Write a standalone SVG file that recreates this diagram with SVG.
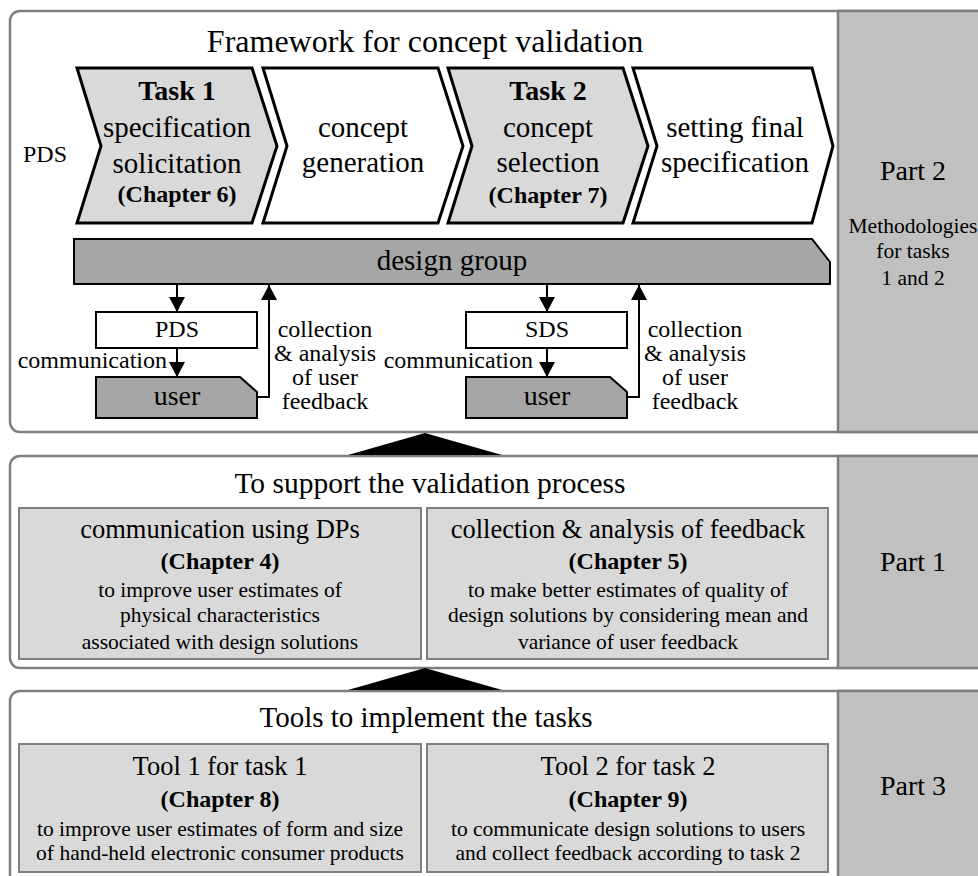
<svg xmlns="http://www.w3.org/2000/svg" width="978" height="876" viewBox="0 0 978 876" font-family="'Liberation Serif', 'DejaVu Serif', serif">
<style>
text{font-family:'Liberation Serif','DejaVu Serif',serif;fill:#000;text-anchor:middle}
.panel{fill:#fff;stroke:#7f7f7f;stroke-width:2.5}
.col{fill:#c0c0c0;stroke:#7f7f7f;stroke-width:2.5}
.box{fill:#d9d9d9;stroke:#808080;stroke-width:2}
.chevG{fill:#d9d9d9;stroke:#000;stroke-width:3;stroke-linejoin:miter}
.chevW{fill:#fff;stroke:#000;stroke-width:3;stroke-linejoin:miter}
.dark{fill:#a6a6a6;stroke:#000;stroke-width:2}
.white{fill:#fff;stroke:#000;stroke-width:2}
.ln{fill:none;stroke:#000;stroke-width:2}
.t29{font-size:29px}
.t295{font-size:29.5px}
.t32{font-size:32px}
.t28b{font-size:28px;font-weight:bold}
.t24b{font-size:24px;font-weight:bold}
.t24{font-size:24px}
.t26{font-size:26.5px}
.t21{font-size:21.5px}
.t28{font-size:28px}
</style>
<defs>
<marker id="ah" markerWidth="16" markerHeight="16" refX="15" refY="8" orient="auto" markerUnits="userSpaceOnUse">
<path d="M0,0 L15,8 L0,16 Z" fill="#000"/>
</marker>
</defs>

<g id="panel-top">
<rect class="panel" x="10" y="11" width="990" height="421" rx="10"/>
<rect class="col" x="838" y="11" width="160" height="421"/>
<text class="t32" x="425" y="52">Framework for concept validation</text>
</g>

<g id="panel-mid">
<rect class="panel" x="10" y="456" width="990" height="212" rx="10"/>
<rect class="col" x="838" y="456" width="160" height="212"/>
<text class="t295" x="430" y="493">To support the validation process</text>
</g>

<g id="panel-bot">
<rect class="panel" x="10" y="691" width="990" height="210" rx="10"/>
<rect class="col" x="838" y="691" width="160" height="210"/>
<text class="t29" x="426" y="727">Tools to implement the tasks</text>
</g>

<g id="part2">
<text class="t28" x="913" y="180">Part 2</text>
<text class="t21" x="913" y="233">Methodologies</text>
<text class="t21" x="913" y="258">for tasks</text>
<text class="t21" x="913" y="285">1 and 2</text>
</g>
<g id="part1"><text class="t28" x="913" y="571">Part 1</text></g>
<g id="part3"><text class="t28" x="913" y="795">Part 3</text></g>

<g id="pds-label"><text class="t24" x="23" y="162" style="text-anchor:start">PDS</text></g>

<g id="chev1">
<polygon class="chevG" points="77,68 252,68 277,146 252,223 77,223 101,146"/>
<text class="t28b" x="177" y="100">Task 1</text>
<text class="t29" x="177" y="137">specification</text>
<text class="t29" x="177" y="173">solicitation</text>
<text class="t24b" x="177" y="202">(Chapter 6)</text>
</g>
<g id="chev2">
<polygon class="chevW" points="263,68 438,68 463,146 438,223 263,223 287,146"/>
<text class="t29" x="363" y="137">concept</text>
<text class="t29" x="363" y="172">generation</text>
</g>
<g id="chev3">
<polygon class="chevG" points="448,68 623,68 648,146 623,223 448,223 472,146"/>
<text class="t28b" x="548" y="100">Task 2</text>
<text class="t29" x="548" y="137">concept</text>
<text class="t29" x="548" y="172">selection</text>
<text class="t24b" x="548" y="203">(Chapter 7)</text>
</g>
<g id="chev4">
<polygon class="chevW" points="633,68 812,68 833,146 812,223 633,223 657,146"/>
<text class="t29" x="735" y="137">setting final</text>
<text class="t29" x="735" y="172">specification</text>
</g>

<g id="design-group">
<polygon class="dark" points="74,239 812,239 830,262 830,284 74,284"/>
<text class="t29" x="452" y="270">design group</text>
</g>

<g id="pds-box">
<rect class="white" x="96" y="312" width="161" height="36"/>
<text class="t24" x="177" y="337">PDS</text>
</g>
<g id="user1">
<polygon class="dark" points="96,377 240,377 257,392 257,418 96,418"/>
<text class="t28" x="177" y="405">user</text>
</g>
<g id="sds-box">
<rect class="white" x="466" y="312" width="161" height="36"/>
<text class="t24" x="547" y="337">SDS</text>
</g>
<g id="user2">
<polygon class="dark" points="466,377 610,377 627,392 627,418 466,418"/>
<text class="t28" x="547" y="405">user</text>
</g>

<g id="connectors">
<line class="ln" x1="177" y1="285" x2="177" y2="312" marker-end="url(#ah)"/>
<line class="ln" x1="177" y1="348" x2="177" y2="377" marker-end="url(#ah)"/>
<polyline class="ln" points="257,397 269,397 269,285" marker-end="url(#ah)"/>
<line class="ln" x1="547" y1="285" x2="547" y2="312" marker-end="url(#ah)"/>
<line class="ln" x1="547" y1="348" x2="547" y2="377" marker-end="url(#ah)"/>
<polyline class="ln" points="627,397 639,397 639,285" marker-end="url(#ah)"/>
<polygon points="348,455 425,433 502,455" fill="#000"/>
<polygon points="348,690 425,668 502,690" fill="#000"/>
<text class="t24" x="167" y="368" style="text-anchor:end">communication</text>
<text class="t24" x="533" y="368" style="text-anchor:end">communication</text>
<text class="t24" x="325" y="337">collection</text>
<text class="t24" x="325" y="361">&amp; analysis</text>
<text class="t24" x="325" y="385">of user</text>
<text class="t24" x="325" y="409">feedback</text>
<text class="t24" x="695" y="337">collection</text>
<text class="t24" x="695" y="361">&amp; analysis</text>
<text class="t24" x="695" y="385">of user</text>
<text class="t24" x="695" y="409">feedback</text>
</g>

<g id="box-dps">
<rect class="box" x="19" y="508" width="402" height="151"/>
<text class="t26" x="220" y="538">communication using DPs</text>
<text class="t24b" x="220" y="569">(Chapter 4)</text>
<text class="t21" x="220" y="597">to improve user estimates of</text>
<text class="t21" x="220" y="622">physical characteristics</text>
<text class="t21" x="220" y="649">associated with design solutions</text>
</g>
<g id="box-feedback">
<rect class="box" x="427" y="508" width="401" height="151"/>
<text class="t26" x="628" y="538">collection &amp; analysis of feedback</text>
<text class="t24b" x="628" y="569">(Chapter 5)</text>
<text class="t21" x="628" y="597">to make better estimates of quality of</text>
<text class="t21" x="628" y="622">design solutions by considering mean and</text>
<text class="t21" x="628" y="649">variance of user feedback</text>
</g>
<g id="box-tool1">
<rect class="box" x="19" y="744" width="402" height="128"/>
<text class="t26" x="220" y="775">Tool 1 for task 1</text>
<text class="t24b" x="220" y="807">(Chapter 8)</text>
<text class="t21" x="220" y="836">to improve user estimates of form and size</text>
<text class="t21" x="220" y="860">of hand-held electronic consumer products</text>
</g>
<g id="box-tool2">
<rect class="box" x="427" y="744" width="401" height="128"/>
<text class="t26" x="628" y="775">Tool 2 for task 2</text>
<text class="t24b" x="628" y="807">(Chapter 9)</text>
<text class="t21" x="628" y="836">to communicate design solutions to users</text>
<text class="t21" x="628" y="860">and collect feedback according to task 2</text>
</g>
</svg>
